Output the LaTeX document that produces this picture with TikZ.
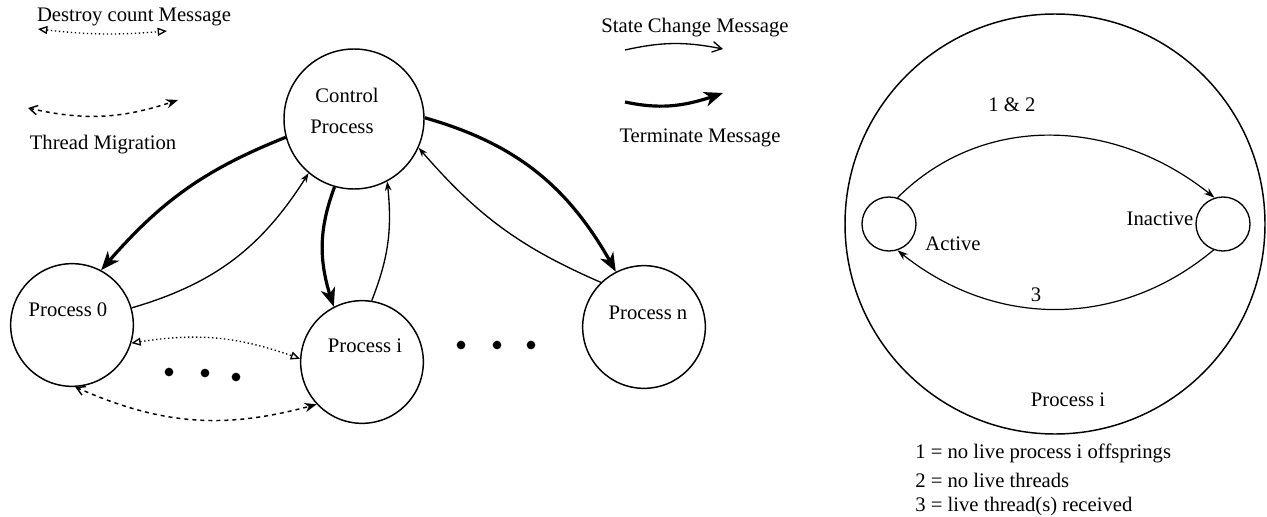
\documentclass[tikz,border=0pt]{standalone}
\usepackage{fontspec}
\setmainfont{Liberation Serif}
\usetikzlibrary{arrows.meta,bending}
\begin{document}
\begin{tikzpicture}[x=0.75pt,y=0.75pt,
  proc/.style={draw, circle, line width=1.1pt, inner sep=0pt, minimum size=92pt},
  ctrlc/.style={draw, circle, line width=1.1pt, inner sep=0pt, minimum size=105pt},
  state/.style={draw, circle, line width=1pt, inner sep=0pt, minimum size=40.5pt},
  outer/.style={draw, circle, line width=1.1pt, inner sep=0pt, minimum size=315pt},
  lbl/.style={inner sep=0pt, font=\fontsize{15.5}{18}\selectfont},
  dotn/.style={circle, fill, inner sep=0pt, minimum size=6.5pt},
  termarrow/.style={line width=2.4pt, -{Stealth[length=14pt,width=11pt,inset=4pt]}},
  statearrow/.style={line width=0.9pt, -{Stealth[length=8pt,width=5.5pt]}},
  legstate/.style={line width=1pt, -{Straight Barb[length=7pt,width=8pt]}},
  destroy/.style={line width=1pt, dotted, {Triangle[open,length=7pt,width=6pt]}-{Triangle[open,length=7pt,width=6pt]}},
  migr/.style={line width=1.1pt, dashed, {Straight Barb[length=6pt,width=7pt]}-{Stealth[length=9pt,width=7pt]}},
  small/.style={line width=1pt, -{Stealth[length=7pt,width=5pt]}}
]
\useasboundingbox (0,0) rectangle (1267,-517);

% legend (left)
\node[lbl] (tdestroy) at (134,-17) {Destroy count Message};
\coordinate (d1a) at (38,-29);
\coordinate (d1b) at (167,-31);
\draw[destroy] (d1a) to[bend right=6] (d1b);
\coordinate (m1a) at (28,-108);
\coordinate (m1b) at (178,-100);
\draw[migr] (m1a) to[bend right=16] (m1b);
\node[lbl] (tmigr) at (103,-145) {Thread Migration};

% legend (middle)
\node[lbl] (tstate) at (695,-28) {State Change Message};
\coordinate (s1a) at (625,-50);
\coordinate (s1b) at (723,-49);
\draw[legstate] (s1a) to[bend left=12] (s1b);
\coordinate (t1a) at (625,-102);
\coordinate (t1b) at (723,-93);
\draw[termarrow] (t1a) to[out=-12,in=200] (t1b);
\node[lbl] (tterm) at (700,-138) {Terminate Message};

% processes
\node[ctrlc] (ctrl) at (354,-119) {};
\node[lbl] (tctrl1) at (347,-95) {Control};
\node[lbl] (tctrl2) at (342,-127) {Process};
\node[proc] (p0) at (72,-325) {};
\node[lbl] (tp0) at (68,-310) {Process 0};
\node[proc] (pi) at (362,-362) {};
\node[lbl] (tpi) at (365,-346) {Process i};
\node[proc] (pn) at (644,-327) {};
\node[lbl] (tpn) at (648,-313) {Process n};

\node[dotn] (dA) at (169,-372) {};
\node[dotn] (dB) at (205,-373) {};
\node[dotn] (dC) at (236,-377) {};
\node[dotn] (dD) at (461,-345) {};
\node[dotn] (dE) at (497,-345) {};
\node[dotn] (dF) at (531,-345) {};

% connectors
\draw[termarrow] (ctrl.195) to[bend right=14] (p0.62);
\draw[small] (p0.16) to[bend right=21] (ctrl.230);
\draw[termarrow] (ctrl.254) to[bend right=20] (pi.117);
\draw[small] (pi.81) to[bend right=14] (ctrl.298);
\draw[termarrow] (ctrl.1) to[bend left=23] (pn.117);
\draw[small] (pn.134) to[bend left=13] (ctrl.336);
\draw[destroy] (p0.343) to[bend left=15] (pi.177);
\draw[migr] (p0.273) to[bend right=20] (pi.223);

% state diagram
\node[outer] (big) at (1055,-224) {};
\node[state] (act) at (889,-224) {};
\node[state] (inact) at (1223,-224) {};
\draw[statearrow] (act.72) to[out=45,in=140] (inact.108);
\draw[statearrow] (inact.250) to[out=220,in=320] (act.288);
\node[lbl] (t12) at (1012,-105) {1 \& 2};
\node[lbl] (tact) at (953,-244) {Active};
\node[lbl] (tinact) at (1160,-219) {Inactive};
\node[lbl] (t3) at (1036,-295) {3};
\node[lbl] (tpi2) at (1068,-400) {Process i};
\node[lbl, anchor=west] (leg1) at (915,-453) {1 = no live process i offsprings};
\node[lbl, anchor=west] (leg2) at (915,-480) {2 = no live threads};
\node[lbl, anchor=west] (leg3) at (915,-507) {3 = live thread(s) received};
\end{tikzpicture}
\end{document}
